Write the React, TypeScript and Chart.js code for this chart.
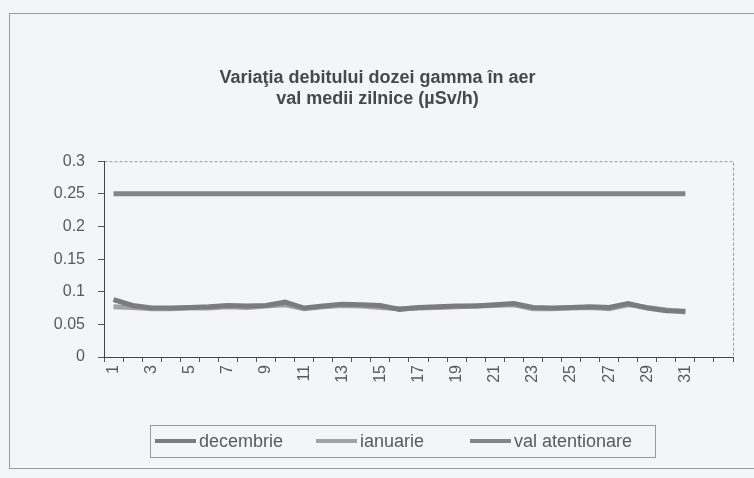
import React, { useEffect, useRef } from "react";
import { Chart, registerables } from "chart.js";

Chart.register(...registerables);

const titleLines = ["Variaţia debitului dozei gamma în aer", "val medii zilnice (µSv/h)"];

const days = [
  "1", "2", "3", "4", "5", "6", "7", "8", "9", "10",
  "11", "12", "13", "14", "15", "16", "17", "18", "19", "20",
  "21", "22", "23", "24", "25", "26", "27", "28", "29", "30",
  "31", "", "",
];

const decembrie = [
  0.088, 0.079, 0.075, 0.075, 0.076, 0.077, 0.079, 0.078, 0.079, 0.084,
  0.075, 0.078, 0.081, 0.080, 0.079, 0.073, 0.076, 0.077, 0.078, 0.078,
  0.080, 0.082, 0.076, 0.075, 0.076, 0.077, 0.076, 0.082, 0.075, 0.071,
  0.070,
];

const ianuarie = [
  0.077, 0.076, 0.074, 0.074, 0.075, 0.075, 0.077, 0.076, 0.078, 0.080,
  0.074, 0.077, 0.079, 0.078, 0.076, 0.074, 0.075, 0.076, 0.077, 0.078,
  0.079, 0.080, 0.074, 0.074, 0.075, 0.076, 0.074, 0.080, 0.076, 0.072,
  0.069,
];

const valAtentionare = [
  0.25, 0.25, 0.25, 0.25, 0.25, 0.25, 0.25, 0.25, 0.25, 0.25,
  0.25, 0.25, 0.25, 0.25, 0.25, 0.25, 0.25, 0.25, 0.25, 0.25,
  0.25, 0.25, 0.25, 0.25, 0.25, 0.25, 0.25, 0.25, 0.25, 0.25,
  0.25,
];

const seriesNames = ["decembrie", "ianuarie", "val atentionare"];

const FONT = "'Liberation Sans', Arial, sans-serif";
const BG = "#f3f5f9";

export default function App() {
  const ref = useRef<HTMLCanvasElement | null>(null);

  useEffect(() => {
    if (!ref.current) return;

    const framePlugin = {
      id: "framePlugin",
      beforeDraw(chart: any) {
        const ctx = chart.ctx;
        ctx.save();
        ctx.fillStyle = BG;
        ctx.fillRect(0, 0, chart.width, chart.height);
        ctx.strokeStyle = "#9a9a9a";
        ctx.lineWidth = 1;
        ctx.strokeRect(9.5, 13.5, chart.width + 10, 455);
        const a = chart.chartArea;
        ctx.setLineDash([3, 2]);
        ctx.strokeStyle = "#9a9a9a";
        ctx.strokeRect(a.left + 0.5, a.top + 0.5, a.right - a.left, a.bottom - a.top);
        ctx.restore();
      },
      afterDraw(chart: any) {
        const ctx = chart.ctx;
        const xs = chart.scales.x;
        ctx.save();
        // rotated x labels (reading bottom to top)
        ctx.fillStyle = "#5a5a5a";
        ctx.font = `16px ${FONT}`;
        ctx.textAlign = "right";
        ctx.textBaseline = "middle";
        const top = chart.chartArea.bottom + 8;
        xs.ticks.forEach((_t: any, i: number) => {
          const lab = days[i];
          if (!lab || i % 2 !== 0) return;
          const x = xs.getPixelForTick(i);
          ctx.save();
          ctx.translate(x, top);
          ctx.rotate(-Math.PI / 2);
          ctx.fillText(lab, 0, 0);
          ctx.restore();
        });

        // legend
        const boxL = 150, boxT = 425, boxW = 505, boxH = 32;
        ctx.font = `18px ${FONT}`;
        const sample = 41, gapText = 3;
        const starts = [155, 316, 470];
        const cy = boxT + boxH / 2;
        const ds = chart.data.datasets;
        ds.forEach((d: any, i: number) => {
          const x = starts[i];
          ctx.strokeStyle = d.borderColor;
          ctx.lineWidth = 4;
          ctx.beginPath();
          ctx.moveTo(x, cy);
          ctx.lineTo(x + sample, cy);
          ctx.stroke();
          ctx.fillStyle = "#5a5a5a";
          ctx.textAlign = "left";
          ctx.textBaseline = "middle";
          ctx.fillText(d.label, x + sample + gapText, cy + 1);
        });
        ctx.strokeStyle = "#9a9a9a";
        ctx.lineWidth = 1;
        ctx.strokeRect(boxL + 0.5, boxT + 0.5, boxW, boxH);
        ctx.restore();
      },
    };

    const chart = new Chart(ref.current, {
      type: "line",
      data: {
        labels: days,
        datasets: [
          {
            label: seriesNames[0],
            data: decembrie,
            borderColor: "#7c7c7c",
            borderWidth: 5,
            pointRadius: 0,
            tension: 0,
          },
          {
            label: seriesNames[1],
            data: ianuarie,
            borderColor: "#a3a3a3",
            borderWidth: 5,
            pointRadius: 0,
            tension: 0,
          },
          {
            label: seriesNames[2],
            data: valAtentionare,
            borderColor: "#858585",
            borderWidth: 5,
            pointRadius: 0,
            tension: 0,
          },
        ],
      },
      options: {
        responsive: false,
        animation: false,
        devicePixelRatio: 1,
        layout: { padding: { left: 22, right: 21, top: 0, bottom: 71 } },
        plugins: {
          legend: { display: false },
          tooltip: { enabled: false },
          title: {
            display: true,
            text: titleLines,
            color: "#484848",
            font: { family: FONT, size: 18, weight: "bold", lineHeight: 1.2 },
            padding: { top: 67, bottom: 51 },
          },
        },
        scales: {
          x: {
            offset: true,
            grid: {
              offset: true,
              drawOnChartArea: false,
              drawTicks: true,
              tickLength: 5,
              color: "#555",
            },
            border: { display: true, color: "#444", width: 1 },
            ticks: {
              autoSkip: false,
              minRotation: 90,
              maxRotation: 90,
              color: "rgba(0,0,0,0)",
              font: { family: FONT, size: 16 },
              callback: (_v: any, i: number) => days[i],
            },
            afterFit: (s: any) => {
              s.height = 50;
            },
          },
          y: {
            min: 0,
            max: 0.3,
            grid: {
              drawOnChartArea: false,
              drawTicks: true,
              tickLength: 6,
              color: "#555",
            },
            border: { display: true, color: "#444", width: 1 },
            ticks: {
              stepSize: 0.05,
              padding: 13,
              color: "#5a5a5a",
              font: { family: FONT, size: 16 },
              callback: (v: any) => String(Number(Number(v).toFixed(2))),
            },
            afterFit: (s: any) => {
              s.width = 82;
            },
          },
        },
      },
      plugins: [framePlugin],
    } as any);

    return () => chart.destroy();
  }, []);

  return (
    <div style={{ position: "fixed", left: 0, top: 0, width: 754, height: 478, background: BG }}>
      <canvas ref={ref} width={754} height={478} style={{ display: "block" }} />
    </div>
  );
}
